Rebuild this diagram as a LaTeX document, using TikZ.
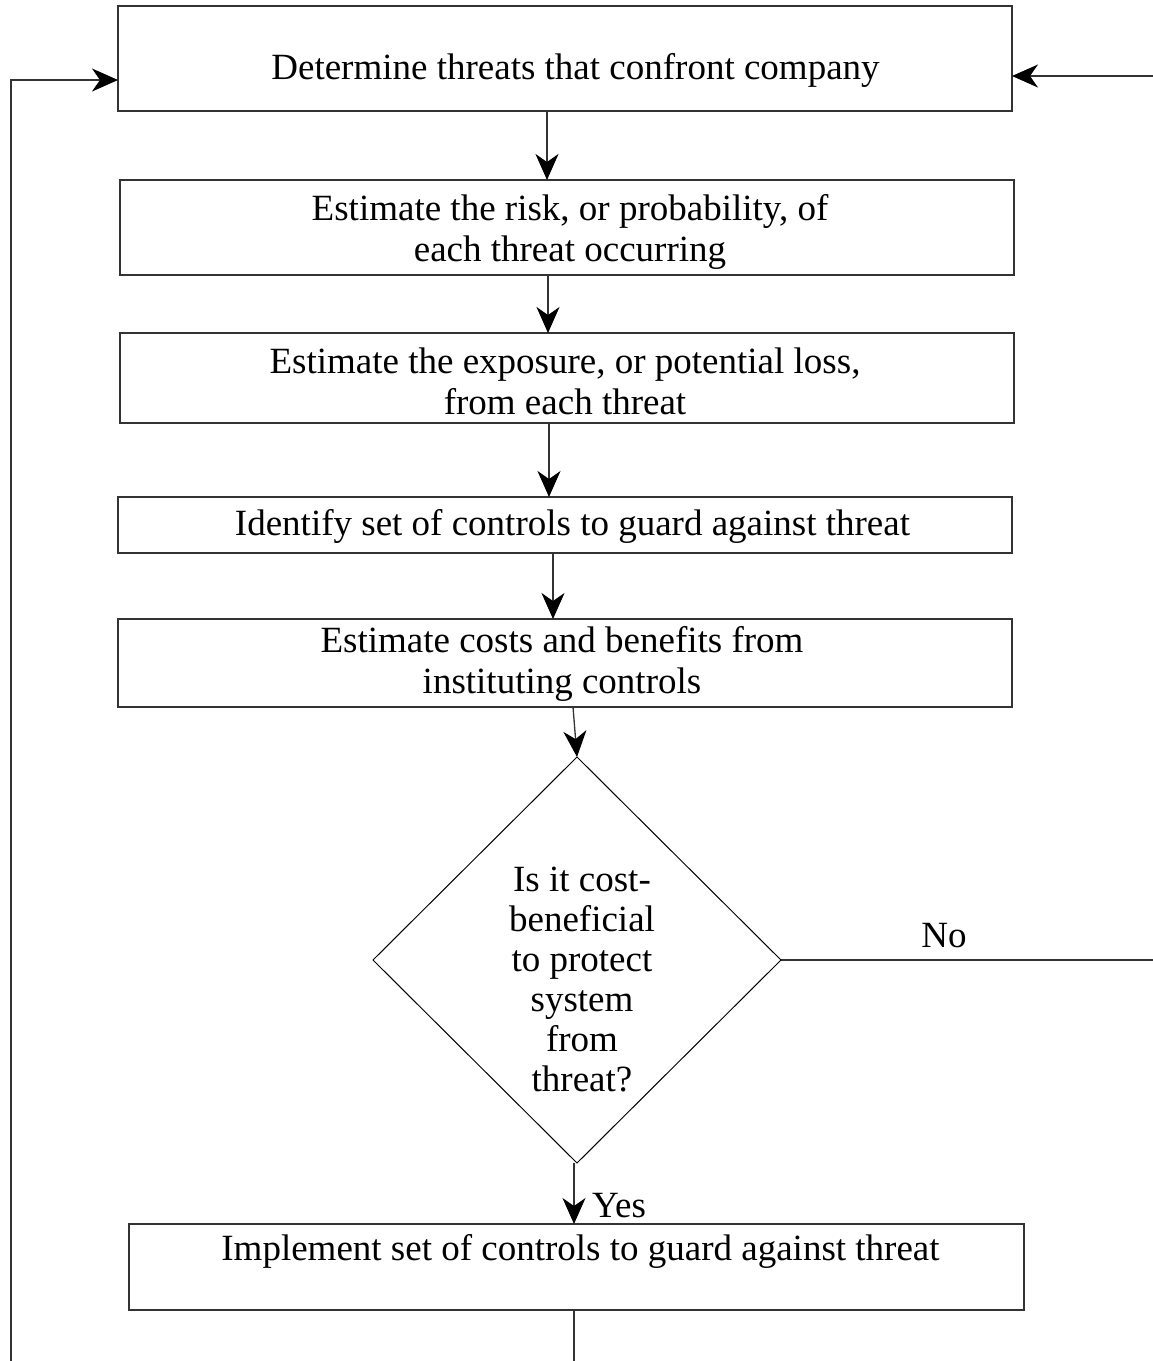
\documentclass[tikz,border=0pt]{standalone}
\usepackage{fontspec}
\setmainfont{Liberation Serif}
\usetikzlibrary{shapes.geometric,arrows.meta}
\begin{document}
\begin{tikzpicture}[x=1pt,y=-1pt,
  line/.style={draw=black!80, line width=1.3pt},
  arr/.style={line, -{Stealth[length=26pt,width=23pt,inset=8pt,color=black]}},
  box/.style={rectangle, draw=black!80, line width=1.3pt, inner sep=0pt, outer sep=0pt},
  dia/.style={diamond, draw=black, line width=1pt, inner sep=0pt, outer sep=0pt},
  lbl/.style={font=\fontsize{37}{41}\selectfont, inner sep=0pt, align=center},
]
\useasboundingbox (0,0) rectangle (1153,1361);
% boxes
\node[box, minimum width=894pt, minimum height=105pt] (b1) at (565,58.5) {};
\node[box, minimum width=894pt, minimum height=95pt] (b2) at (567,227.5) {};
\node[box, minimum width=894pt, minimum height=90pt] (b3) at (567,378) {};
\node[box, minimum width=894pt, minimum height=56pt] (b4) at (565,525) {};
\node[box, minimum width=894pt, minimum height=88pt] (b5) at (565,663) {};
\node[dia, minimum width=408pt, minimum height=406pt] (d) at (577,960) {};
\node[box, minimum width=895pt, minimum height=86pt] (b6) at (576.5,1267) {};
% texts
\node[lbl, anchor=base] (t1) at (575.5,79) {Determine threats that confront company};
\node[lbl] (t2) at (570,231.5) {Estimate the risk, or probability, of\\each threat occurring};
\node[lbl] (t3) at (565,381) {Estimate the exposure, or potential loss,\\from each threat};
\node[lbl, anchor=base] (t4) at (572.5,535) {Identify set of controls to guard against threat};
\node[lbl] (t5) at (562,664) {Estimate costs and benefits from\\instituting controls};
\node[lbl, font=\fontsize{37}{40}\selectfont] (td) at (582,979) {Is it cost-\\beneficial\\to protect\\system\\from\\threat?};
\node[lbl, anchor=base] (t6) at (580.5,1260) {Implement set of controls to guard against threat};
\node[lbl, anchor=base] (no) at (944,947) {No};
\node[lbl, anchor=base west] (yes) at (592,1217) {Yes};
% connectors
\coordinate (lb) at (11,1361);
\coordinate (lt) at (11,80);
\draw[arr] (lb) -- (lt) -- (lt -| b1.west);
\coordinate (rin) at (1153,76);
\draw[arr] (rin) -- (rin -| b1.east);
\coordinate (x1) at (547,0);
\coordinate (x2) at (548,0);
\coordinate (x3) at (549,0);
\coordinate (x4) at (553,0);
\coordinate (x5) at (573,0);
\coordinate (x6) at (574,0);
\draw[arr] (b1.south -| x1) -- (b2.north -| x1);
\draw[arr] (b2.south -| x2) -- (b3.north -| x2);
\draw[arr] (b3.south -| x3) -- (b4.north -| x3);
\draw[arr] (b4.south -| x4) -- (b5.north -| x4);
\draw[arr] (b5.south -| x5) -- (d.north);
\draw[arr] (d.south -| x6) -- (b6.north -| x6);
\coordinate (bot) at (574,1361);
\draw[line] (b6.south -| bot) -- (bot);
\coordinate (rno) at (1153,960);
\draw[line] (d.east) -- (rno);
\end{tikzpicture}
\end{document}
